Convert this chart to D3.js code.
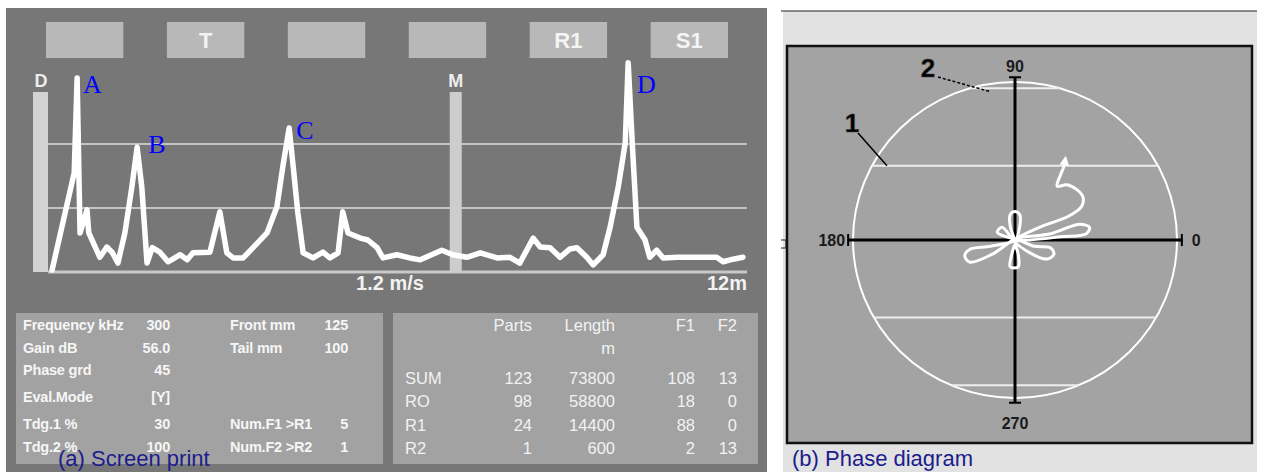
<!DOCTYPE html>
<html>
<head>
<meta charset="utf-8">
<script src="https://cdn.jsdelivr.net/npm/d3@7"></script>
<style>
  body { margin: 0; background: #fff; }
  svg { display: block; font-family: "Liberation Sans", Arial, sans-serif; }
</style>
</head>
<body>
<svg id="vis" width="1262" height="472"></svg>
<script>
// ---- data ----
var buttonLabels = ["", "T", "", "", "R1", "S1"];

// eddy-current trace: distance along tube (m) and signal amplitude (grid units)
var distance = [0.07,0.45,0.50,0.55,0.67,0.70,0.89,1.01,1.10,1.20,1.32,1.44,1.53,1.61,1.70,1.79,1.92,2.06,2.27,2.39,2.49,2.78,2.95,3.07,3.18,3.35,3.52,3.76,3.93,4.03,4.14,4.21,4.29,4.38,4.55,4.72,4.84,4.98,5.06,5.15,5.36,5.49,5.65,5.75,5.99,6.21,6.39,6.76,6.95,7.19,7.42,7.71,7.93,8.10,8.33,8.45,8.62,8.79,8.96,9.08,9.25,9.36,9.53,9.65,9.79,9.91,9.96,10.03,10.11,10.25,10.33,10.45,10.56,10.80,11.02,11.48,11.59,11.76,11.93];
var amplitude = [0.03,1.55,3.03,0.61,0.97,0.61,0.23,0.39,0.31,0.14,0.61,1.33,1.95,1.33,0.14,0.38,0.31,0.16,0.27,0.19,0.30,0.31,0.94,0.30,0.22,0.22,0.38,0.61,1.02,1.64,2.25,1.64,0.92,0.30,0.22,0.31,0.22,0.30,0.94,0.61,0.53,0.50,0.38,0.22,0.27,0.22,0.19,0.34,0.27,0.23,0.30,0.22,0.23,0.14,0.53,0.39,0.38,0.23,0.36,0.38,0.23,0.11,0.27,0.70,1.33,2.02,3.27,2.02,0.70,0.50,0.23,0.34,0.22,0.23,0.23,0.23,0.16,0.20,0.23];
var gridLevels = [1, 2];

var peakNames = ["A", "B", "C", "D"];
var peakLabelDist = [0.60, 1.72, 4.26, 10.11];
var peakLabelAmp = [2.80, 1.86, 2.08, 2.80];
var markerM = 7.0;

// instrument settings box
var settingNames = ["Frequency kHz", "Gain dB", "Phase grd", "Eval.Mode", "Tdg.1 %", "Tdg.2 %"];
var settingValues = ["300", "56.0", "45", "[Y]", "30", "100"];
var gateNames = ["Front mm", "Tail mm", "", "", "Num.F1 >R1", "Num.F2 >R2"];
var gateValues = ["125", "100", "", "", "5", "1"];

// results table
var tableCols = ["Parts", "Length", "F1", "F2"];
var tableRows = ["SUM", "RO", "R1", "R2"];
var parts = [123, 98, 24, 1];
var lengthM = [73800, 58800, 14400, 600];
var f1 = [108, 18, 88, 2];
var f2 = [13, 0, 0, 13];

// phase diagram (unit circle coordinates)
var phaseTrace = [[0,0],[-0.03,0.09],[-0.03,0.16],[0,0.18],[0.03,0.16],[0.03,0.09],[0,0],
  [-0.08,0.08],[-0.11,0.05],[-0.08,0.03],[0,0],
  [-0.15,-0.04],[-0.28,-0.06],[-0.31,-0.10],[-0.28,-0.14],[-0.14,-0.09],[0,0],
  [-0.02,-0.09],[-0.03,-0.17],[0.02,-0.17],[0.02,-0.09],[0,0],
  [0.12,-0.04],[0.22,-0.05],[0.24,-0.09],[0.20,-0.12],[0.09,-0.08],[0,0],
  [0.22,0.04],[0.40,0.10],[0.46,0.08],[0.44,0.04],[0.28,0.02],[0.09,0],[0,0],
  [0.15,0.08],[0.33,0.15],[0.41,0.21],[0.42,0.27],[0.38,0.32],[0.32,0.35],[0.26,0.34],[0.28,0.41],[0.30,0.46],[0.31,0.51]];
var chordLevels = [0.47, -0.49, 0.96, -0.92];
var phaseAngles = [0, 90, 180, 270];

var svg = d3.select('#vis');

svg.append('rect').attr('width', 1262).attr('height', 472).attr('fill', '#fff');

// ================= (a) screen print =================
svg.append('rect')
    .attr('x', 6).attr('y', 8).attr('width', 761).attr('height', 464)
    .attr('fill', '#777777');

var bx = d3.scaleBand().domain(d3.range(buttonLabels.length)).range([46, 728]).paddingInner(0.36);

var buttons = svg.append('g').attr('class', 'buttons')
    .selectAll('g').data(buttonLabels).enter().append('g');

buttons.append('rect')
    .attr('x', function(d, i){ return bx(i); })
    .attr('y', 22)
    .attr('width', bx.bandwidth())
    .attr('height', 36)
    .attr('fill', '#b8b8b8');

buttons.append('text')
    .attr('x', function(d, i){ return bx(i) + bx.bandwidth() / 2; })
    .attr('y', 48)
    .attr('text-anchor', 'middle')
    .attr('fill', '#f4f4f4')
    .style('font-size', '22px')
    .style('font-weight', 'bold')
    .text(function(d){ return d; });

var x = d3.scaleLinear().domain([0, 12]).range([48, 747]);
var y = d3.scaleLinear().domain([0, 3.4]).range([272, 54.4]);

// grid
svg.append('g').selectAll('line').data(gridLevels).enter().append('line')
    .attr('x1', x(0)).attr('x2', x(12))
    .attr('y1', function(d){ return y(d); })
    .attr('y2', function(d){ return y(d); })
    .attr('stroke', '#c4c4c4').attr('stroke-width', 2);

svg.append('line')
    .attr('x1', x(0)).attr('x2', x(12))
    .attr('y1', y(0)).attr('y2', y(0))
    .attr('stroke', '#c8c8c8').attr('stroke-width', 3);

// D bar and M marker
svg.append('rect')
    .attr('x', x(0) - 15).attr('y', 92)
    .attr('width', 15).attr('height', y(0) - 92)
    .attr('fill', '#d2d2d2');
svg.append('rect')
    .attr('x', x(markerM) - 6).attr('y', 92)
    .attr('width', 12).attr('height', y(0) - 92)
    .attr('fill', '#cdcdcd');

svg.append('text').attr('x', x(0) - 7).attr('y', 87).attr('text-anchor', 'middle')
    .attr('fill', '#eeeeee').style('font-size', '18px').style('font-weight', 'bold').text('D');
svg.append('text').attr('x', x(markerM)).attr('y', 87).attr('text-anchor', 'middle')
    .attr('fill', '#eeeeee').style('font-size', '18px').style('font-weight', 'bold').text('M');

var trace = d3.line()
    .x(function(d, i){ return x(distance[i]); })
    .y(function(d, i){ return y(amplitude[i]); });

svg.append('path')
    .datum(distance)
    .attr('d', trace)
    .attr('fill', 'none')
    .attr('stroke', '#ffffff')
    .attr('stroke-width', 5.5)
    .attr('stroke-linejoin', 'round')
    .attr('stroke-linecap', 'round');

svg.append('g').selectAll('text').data(peakNames).enter().append('text')
    .attr('x', function(d, i){ return x(peakLabelDist[i]); })
    .attr('y', function(d, i){ return y(peakLabelAmp[i]); })
    .attr('fill', '#0000ff')
    .style('font-family', '"Liberation Serif", "Times New Roman", serif')
    .style('font-size', '26px')
    .text(function(d){ return d; });

svg.append('text').attr('x', 390).attr('y', 290).attr('text-anchor', 'middle')
    .attr('fill', '#f2f2f2').style('font-size', '20px').style('font-weight', 'bold').text('1.2 m/s');
svg.append('text').attr('x', x(12)).attr('y', 290).attr('text-anchor', 'end')
    .attr('fill', '#f2f2f2').style('font-size', '20px').style('font-weight', 'bold').text('12m');

// settings box
svg.append('rect').attr('x', 16).attr('y', 313).attr('width', 367).attr('height', 151).attr('fill', '#a2a2a2');

var rowSlot = [0, 1, 2, 3.2, 4.4, 5.4];
var rowY = function(i){ return 330 + rowSlot[i] * 22.5; };

var settings = svg.append('g')
    .attr('fill', '#f6f6f6')
    .style('font-size', '14.5px')
    .style('font-weight', 'bold')
    .style('letter-spacing', '-0.2px');

settings.selectAll('.sname').data(settingNames).enter().append('text')
    .attr('x', 23).attr('y', function(d, i){ return rowY(i); })
    .text(function(d){ return d; });
settings.selectAll('.sval').data(settingValues).enter().append('text')
    .attr('x', 170).attr('y', function(d, i){ return rowY(i); })
    .attr('text-anchor', 'end')
    .text(function(d){ return d; });
settings.selectAll('.gname').data(gateNames).enter().append('text')
    .attr('x', 230).attr('y', function(d, i){ return rowY(i); })
    .text(function(d){ return d; });
settings.selectAll('.gval').data(gateValues).enter().append('text')
    .attr('x', 348).attr('y', function(d, i){ return rowY(i); })
    .attr('text-anchor', 'end')
    .text(function(d){ return d; });

// results table
svg.append('rect').attr('x', 393).attr('y', 313).attr('width', 365).attr('height', 151).attr('fill', '#a2a2a2');

var colRight = [532, 615, 695, 737];
var table = svg.append('g').attr('fill', '#f2f2f2').style('font-size', '16.5px');

table.selectAll('.head').data(tableCols).enter().append('text')
    .attr('x', function(d, i){ return colRight[i]; })
    .attr('y', 331)
    .attr('text-anchor', 'end')
    .text(function(d){ return d; });
table.append('text').attr('x', colRight[1]).attr('y', 354).attr('text-anchor', 'end').text('m');

var rowsY = d3.scalePoint().domain(tableRows).range([384, 454]);
var tableData = tableRows.map(function(r, i){
    return { name: r, vals: [parts[i], lengthM[i], f1[i], f2[i]] };
});

var trow = table.selectAll('.row').data(tableData).enter().append('g')
    .attr('transform', function(d){ return 'translate(0,' + rowsY(d.name) + ')'; });
trow.append('text').attr('x', 405).text(function(d){ return d.name; });
trow.selectAll('.v').data(function(d){ return d.vals; }).enter().append('text')
    .attr('x', function(d, i){ return colRight[i]; })
    .attr('text-anchor', 'end')
    .text(function(d){ return d; });

svg.append('text').attr('x', 58).attr('y', 466)
    .attr('fill', '#1c1c8c').style('font-size', '22px').text('(a) Screen print');

// ================= (b) phase diagram =================
svg.append('rect').attr('x', 783).attr('y', 11).attr('width', 474).attr('height', 461).attr('fill', '#e2e2e2');
svg.append('line').attr('x1', 781).attr('x2', 1257).attr('y1', 11).attr('y2', 11)
    .attr('stroke', '#222').attr('stroke-width', 1.2);
svg.append('rect').attr('x', 787).attr('y', 46).attr('width', 465).attr('height', 397)
    .attr('fill', '#a3a3a3').attr('stroke', '#111').attr('stroke-width', 2.5);
svg.append('path').attr('d', 'M781,240H786V248H781').attr('fill', 'none').attr('stroke', '#222').attr('stroke-width', 1.2);

var cx = 1015, cy = 240, rx = 162, ry = 158;
var px = d3.scaleLinear().domain([-1, 1]).range([cx - rx, cx + rx]);
var py = d3.scaleLinear().domain([-1, 1]).range([cy + ry, cy - ry]);

var phase = svg.append('g').attr('class', 'phase');

phase.append('ellipse')
    .attr('cx', px(0)).attr('cy', py(0)).attr('rx', rx).attr('ry', ry)
    .attr('fill', 'none').attr('stroke', '#ffffff').attr('stroke-width', 2);

phase.selectAll('.chord').data(chordLevels).enter().append('line')
    .attr('x1', function(d){ return px(-Math.sqrt(1 - d * d)); })
    .attr('x2', function(d){ return px(Math.sqrt(1 - d * d)); })
    .attr('y1', function(d){ return py(d); })
    .attr('y2', function(d){ return py(d); })
    .attr('stroke', '#eeeeee').attr('stroke-width', 2);

// axes
var axEnd = 1.03;
phase.append('line').attr('x1', px(-axEnd)).attr('x2', px(axEnd)).attr('y1', py(0)).attr('y2', py(0))
    .attr('stroke', '#000').attr('stroke-width', 3);
phase.append('line').attr('x1', px(0)).attr('x2', px(0)).attr('y1', py(axEnd)).attr('y2', py(-axEnd))
    .attr('stroke', '#000').attr('stroke-width', 3);

phase.selectAll('.cap').data(phaseAngles).enter().append('line')
    .each(function(a){
        var t = a * Math.PI / 180,
            ex = px(axEnd * Math.cos(t)), ey = py(axEnd * Math.sin(t)),
            horiz = (a === 0 || a === 180);
        d3.select(this)
            .attr('x1', horiz ? ex : ex - 6).attr('x2', horiz ? ex : ex + 6)
            .attr('y1', horiz ? ey - 6 : ey).attr('y2', horiz ? ey + 6 : ey);
    })
    .attr('stroke', '#000').attr('stroke-width', 2);

phase.selectAll('.alabel').data(phaseAngles).enter().append('text')
    .attr('x', function(a){
        if (a === 0) return px(axEnd) + 10;
        if (a === 180) return px(-axEnd) - 3;
        return px(0);
    })
    .attr('y', function(a){
        if (a === 90) return py(axEnd) - 5;
        if (a === 270) return py(-axEnd) + 26;
        return py(0) + 6;
    })
    .attr('text-anchor', function(a){
        if (a === 0) return 'start';
        if (a === 180) return 'end';
        return 'middle';
    })
    .attr('fill', '#1a1a1a')
    .style('font-size', '16px')
    .style('font-weight', 'bold')
    .text(function(a){ return a; });

svg.append('defs').append('marker')
    .attr('id', 'arrow')
    .attr('viewBox', '0 -5 10 10')
    .attr('refX', 6).attr('refY', 0)
    .attr('markerWidth', 3.2).attr('markerHeight', 3.2)
    .attr('markerUnits', 'strokeWidth')
    .attr('orient', 'auto')
    .append('path').attr('d', 'M0,-5L10,0L0,5Z').attr('fill', '#fff');

var phaseLine = d3.line()
    .x(function(d){ return px(d[0]); })
    .y(function(d){ return py(d[1]); })
    .curve(d3.curveCatmullRom.alpha(0.5));

phase.append('path')
    .datum(phaseTrace)
    .attr('d', phaseLine)
    .attr('fill', 'none')
    .attr('stroke', '#ffffff')
    .attr('stroke-width', 3)
    .attr('stroke-linejoin', 'round')
    .attr('marker-end', 'url(#arrow)');

// numbered callouts
phase.append('line').attr('x1', 858).attr('y1', 133).attr('x2', px(-0.79)).attr('y2', py(chordLevels[0]))
    .attr('stroke', '#000').attr('stroke-width', 1.5);
phase.append('line').attr('x1', 938).attr('y1', 77).attr('x2', px(-0.16)).attr('y2', py(chordLevels[2]) + 3)
    .attr('stroke', '#000').attr('stroke-width', 1.5).attr('stroke-dasharray', '3,2');

phase.append('text').attr('x', 852).attr('y', 132).attr('text-anchor', 'middle')
    .attr('fill', '#000').attr('stroke', '#444').attr('stroke-width', 0.6)
    .style('font-size', '26px').style('font-weight', 'bold').text('1');
phase.append('text').attr('x', 928).attr('y', 77).attr('text-anchor', 'middle')
    .attr('fill', '#000').attr('stroke', '#444').attr('stroke-width', 0.6)
    .style('font-size', '26px').style('font-weight', 'bold').text('2');

svg.append('text').attr('x', 792).attr('y', 466)
    .attr('fill', '#1c1c8c').style('font-size', '22px').text('(b) Phase diagram');
</script>
</body>
</html>
